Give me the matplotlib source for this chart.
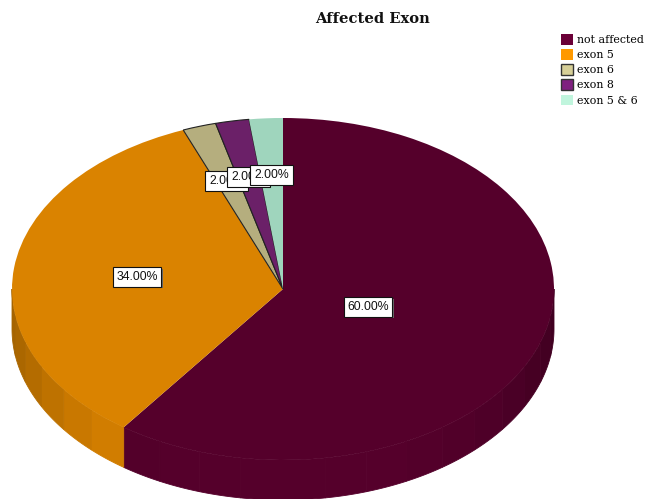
import numpy as np
import matplotlib
matplotlib.use("Agg")
import matplotlib.pyplot as plt
import matplotlib.patheffects as pe
from matplotlib.patches import Patch

# Affected exon shares (percent), clockwise from 12 o'clock
categories = ["not affected", "exon 5", "exon 6", "exon 8", "exon 5 & 6"]
shares = [60.0, 34.0, 2.0, 2.0, 2.0]
top_colors = ["#55002b", "#da8300", "#b5ae7e", "#6b2068", "#9fd5bd"]
legend_colors = ["#6b0037", "#ff9900", "#d6cf97", "#7f2080", "#c0f5dd"]
outlined = [False, False, True, True, False]
label_pos = [(368, 307), (137, 277), (226.5, 181), (248.5, 177), (271.5, 175)]

W, H = 647, 499
CX, CY, RX, RY = 283, 289, 271, 171
DEPTH = 40 / RY


def shade(color, theta):
    # rim stays close to the top colour at the front, darker at the far ends
    rgb = np.array(matplotlib.colors.to_rgb(color))
    return tuple(rgb * (1 - 0.24 * np.sin(theta) ** 4))


fig = plt.figure(figsize=(W / 100, H / 100), dpi=100)
ax = fig.add_axes([0, 0, 1, 1])

# pie rim, drawn in short bands for the front half only
edges = np.cumsum([0] + shares) / sum(shares) * 2 * np.pi
for start, end, color in zip(edges[:-1], edges[1:], top_colors):
    lo, hi = max(start, np.pi / 2), min(end, 3 * np.pi / 2)
    if lo >= hi:
        continue
    steps = max(int(np.degrees(hi - lo) / 9), 1)
    bounds = np.linspace(lo, hi, steps + 1)
    for a, b in zip(bounds[:-1], bounds[1:]):
        t = np.linspace(a, b, 12)
        xs = np.r_[np.sin(t), np.sin(t[::-1])]
        ys = np.r_[np.cos(t), np.cos(t[::-1]) - DEPTH]
        c = shade(color, (a + b) / 2)
        ax.fill(xs, ys, facecolor=c, edgecolor=c, linewidth=0.6, zorder=1)

wedges, _ = ax.pie(shares, colors=top_colors, startangle=90, counterclock=False,
                   radius=1, wedgeprops={"linewidth": 0})
for wedge, has_edge in zip(wedges, outlined):
    wedge.set_zorder(2)
    if has_edge:
        wedge.set_edgecolor("#222222")
        wedge.set_linewidth(0.8)

# stretch the unit disc into an ellipse on the canvas
ax.set_aspect("auto")
ax.set_xlim(-CX / RX, (W - CX) / RX)
ax.set_ylim(-(H - CY) / RY, CY / RY)
ax.axis("off")

for value, (px, py) in zip(shares, label_pos):
    txt = ax.text(px / W, 1 - py / H, f"{value:.2f}%", transform=fig.transFigure,
                  ha="center", va="center", fontsize=8.8, family="Liberation Sans",
                  color="#111111", zorder=5,
                  bbox={"boxstyle": "square,pad=0.3", "facecolor": "white",
                        "edgecolor": "#111111", "linewidth": 0.8})
    txt.get_bbox_patch().set_path_effects([
        pe.SimplePatchShadow(offset=(1, -1), shadow_rgbFace="#666666", alpha=1),
        pe.Normal(),
    ])

fig.text(372 / W, 1 - 19 / H, "Affected Exon", ha="center", va="center",
         fontsize=10.6, fontweight="bold", family="DejaVu Serif", color="#111111")

handles = [
    Patch(facecolor=c, edgecolor="#333333" if o else c, linewidth=1.0 if o else 0)
    for c, o in zip(legend_colors, outlined)
]
ax.legend(handles, categories, loc="upper left", bbox_to_anchor=(561 / W, 1 - 34 / H),
          bbox_transform=fig.transFigure, frameon=False, borderpad=0, borderaxespad=0,
          handlelength=1.1, handleheight=1.1, handletextpad=0.4, labelspacing=0.38,
          prop={"family": "DejaVu Serif", "size": 7.9})

fig.savefig("out.png", dpi=100)
